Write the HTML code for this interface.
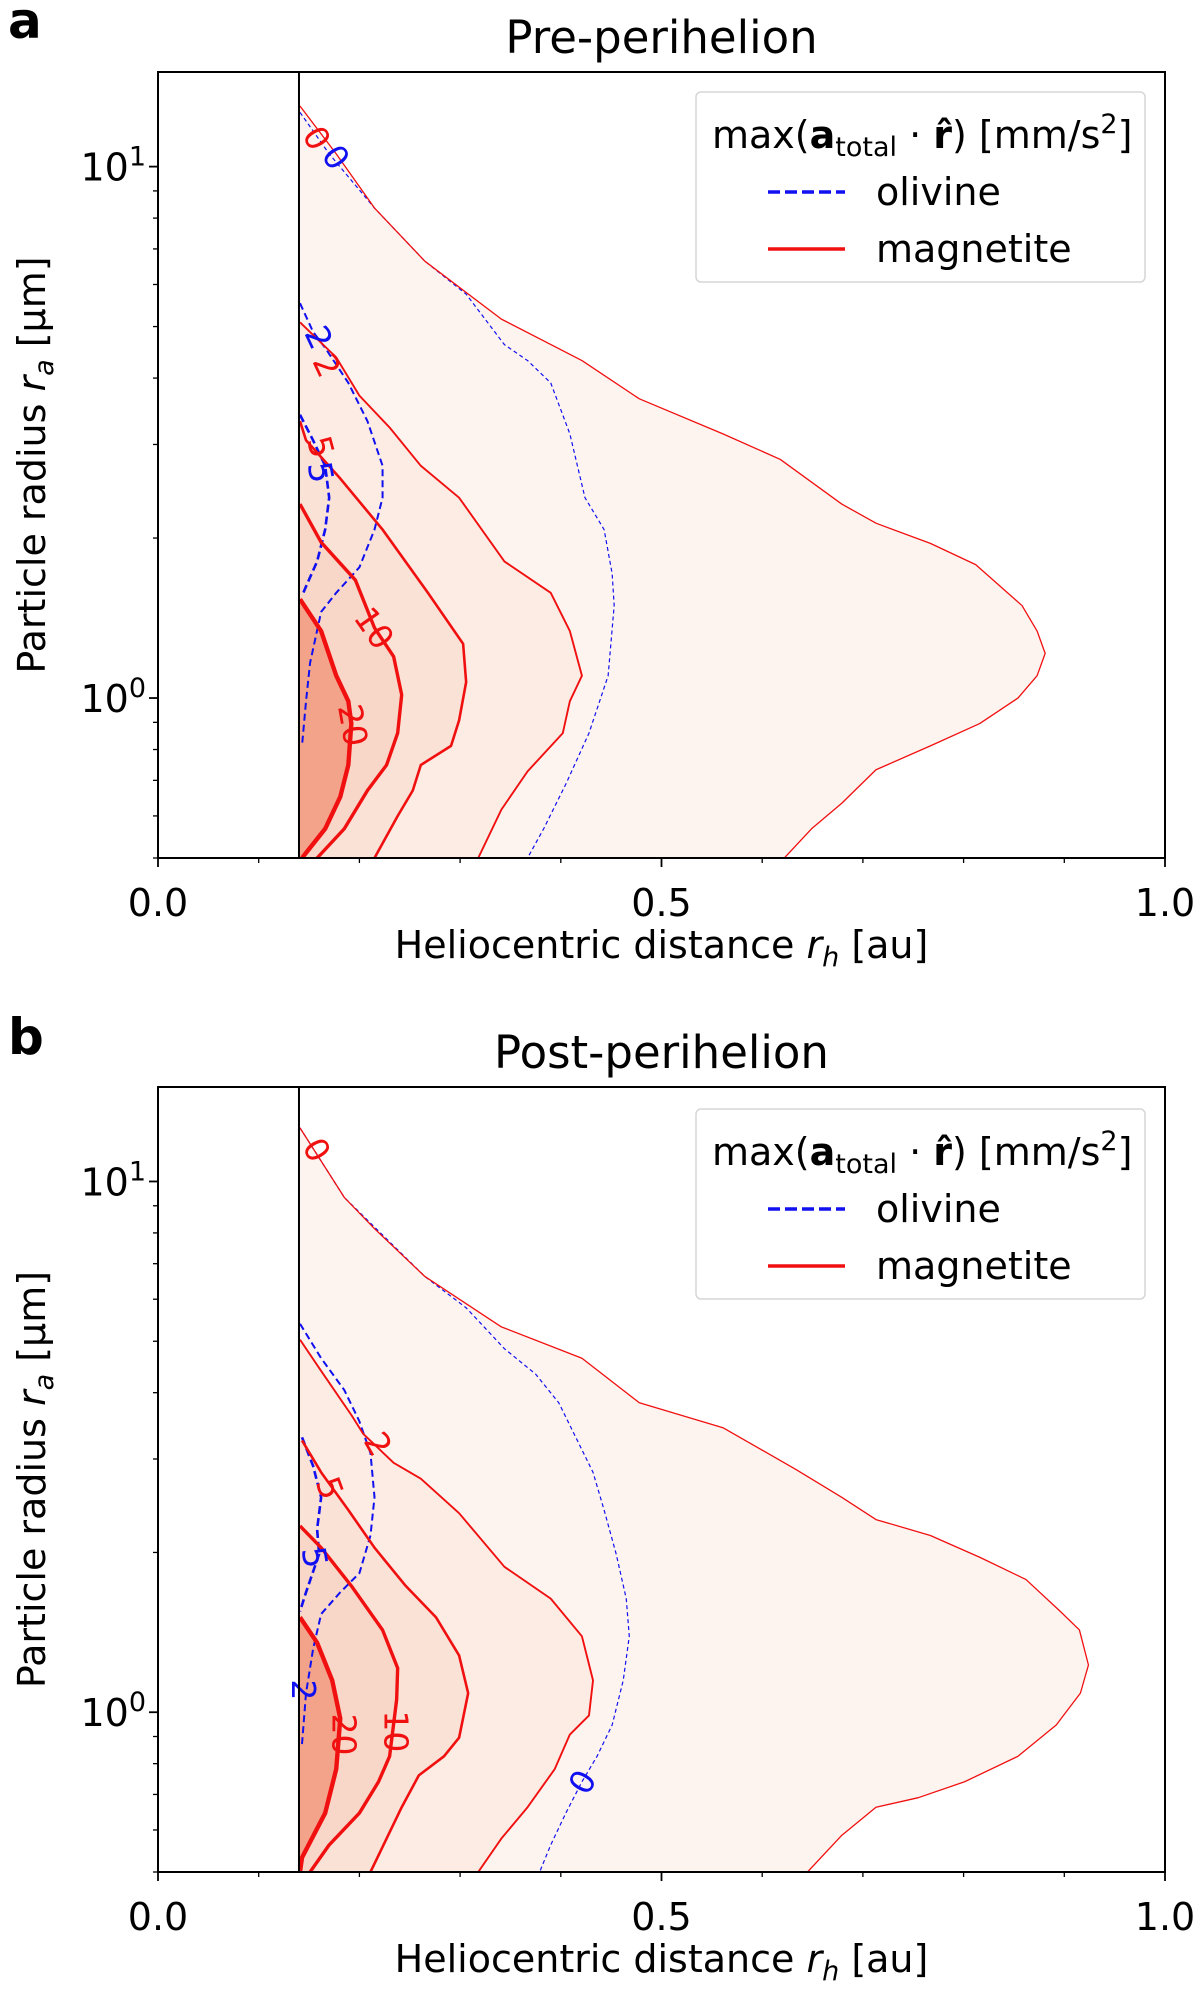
<!DOCTYPE html>
<html><head><meta charset="utf-8">
<style>
html,body{margin:0;padding:0;background:#fff;}
svg{display:block;font-family:"DejaVu Sans","Liberation Sans",sans-serif;}
</style></head>
<body>
<svg id="fig" width="1200" height="1992" viewBox="0 0 1200 1992" xmlns="http://www.w3.org/2000/svg"></svg>
<script>
// ---------- DATA (rh in au, values as log10 of particle radius in µm) ----------
const xTickValues = [0.0, 0.5, 1.0];
const xTickLabels = ["0.0", "0.5", "1.0"];
const yTickExps = [0, 1];
const levels = [0, 2, 5, 10, 20];
const perihelion = 0.14;

// Panel a (pre-perihelion) magnetite
const aMag0Rh = [0.141,0.177,0.215,0.265,0.341,0.421,0.478,0.561,0.618,0.679,0.713,0.767,0.812,0.858,0.873,0.881,0.873,0.854,0.816,0.767,0.713,0.679,0.649,0.622];
const aMag0Lg = [1.114,1.024,0.922,0.822,0.713,0.635,0.563,0.497,0.449,0.365,0.329,0.291,0.251,0.174,0.126,0.084,0.042,0,-0.048,-0.090,-0.135,-0.198,-0.246,-0.301];
const aMag2Rh = [0.141,0.177,0.200,0.230,0.261,0.299,0.344,0.390,0.409,0.421,0.409,0.402,0.367,0.341,0.318];
const aMag2Lg = [0.707,0.641,0.569,0.509,0.437,0.377,0.257,0.198,0.126,0.042,-0.006,-0.066,-0.138,-0.210,-0.301];
const aMag5Rh = [0.141,0.147,0.181,0.223,0.268,0.303,0.306,0.299,0.291,0.261,0.253,0.238,0.215];
const aMag5Lg = [0.521,0.485,0.413,0.317,0.198,0.102,0.030,-0.042,-0.090,-0.126,-0.174,-0.222,-0.301];
const aMag10Rh = [0.141,0.162,0.196,0.215,0.234,0.242,0.238,0.227,0.208,0.185,0.158];
const aMag10Lg = [0.365,0.293,0.222,0.132,0.078,0.006,-0.066,-0.126,-0.174,-0.246,-0.301];
const aMag20Rh = [0.141,0.162,0.177,0.189,0.192,0.189,0.181,0.166,0.143];
const aMag20Lg = [0.186,0.126,0.042,-0.006,-0.048,-0.126,-0.186,-0.246,-0.301];
// Panel a olivine
const aOli0Rh = [0.141,0.170,0.215,0.265,0.306,0.344,0.367,0.390,0.409,0.424,0.443,0.451,0.453,0.447,0.428,0.405,0.383,0.367];
const aOli0Lg = [1.102,1.024,0.922,0.822,0.760,0.665,0.635,0.593,0.497,0.377,0.317,0.234,0.174,0.042,-0.066,-0.162,-0.246,-0.301];
const aOli2Rh = [0.141,0.154,0.166,0.189,0.208,0.223,0.223,0.215,0.200,0.177,0.162,0.151,0.147,0.143];
const aOli2Lg = [0.743,0.689,0.659,0.593,0.521,0.437,0.377,0.317,0.246,0.198,0.162,0.066,-0.006,-0.090];
const aOli5Rh = [0.141,0.154,0.166,0.170,0.166,0.158,0.147,0.143];
const aOli5Lg = [0.533,0.485,0.437,0.377,0.317,0.257,0.210,0.192];

// Panel b (post-perihelion) magnetite
const bMag0Rh = [0.141,0.185,0.215,0.265,0.341,0.421,0.478,0.561,0.633,0.679,0.713,0.767,0.816,0.862,0.896,0.915,0.924,0.916,0.892,0.854,0.801,0.755,0.713,0.679,0.645];
const bMag0Lg = [1.101,0.970,0.911,0.821,0.726,0.667,0.583,0.536,0.458,0.405,0.363,0.333,0.292,0.250,0.190,0.155,0.089,0.036,-0.024,-0.083,-0.131,-0.161,-0.179,-0.232,-0.301];
const bMag2Rh = [0.141,0.162,0.192,0.204,0.234,0.261,0.299,0.344,0.390,0.421,0.432,0.428,0.409,0.394,0.367,0.341,0.318];
const bMag2Lg = [0.702,0.643,0.560,0.524,0.470,0.440,0.375,0.274,0.214,0.143,0.060,-0.006,-0.042,-0.107,-0.179,-0.238,-0.301];
const bMag5Rh = [0.143,0.162,0.189,0.215,0.246,0.276,0.299,0.308,0.299,0.284,0.259,0.242,0.227,0.211];
const bMag5Lg = [0.512,0.452,0.381,0.310,0.238,0.179,0.107,0.036,-0.048,-0.083,-0.119,-0.179,-0.238,-0.301];
const bMag10Rh = [0.141,0.162,0.192,0.223,0.238,0.237,0.230,0.219,0.200,0.170,0.151];
const bMag10Lg = [0.351,0.310,0.238,0.155,0.083,0.024,-0.083,-0.131,-0.190,-0.250,-0.301];
const bMag20Rh = [0.141,0.158,0.173,0.181,0.177,0.166,0.143,0.141];
const bMag20Lg = [0.179,0.131,0.060,-0.012,-0.107,-0.190,-0.274,-0.301];
// Panel b olivine
const bOli0Rh = [0.141,0.185,0.265,0.306,0.344,0.375,0.398,0.432,0.443,0.455,0.465,0.468,0.462,0.451,0.436,0.421,0.405,0.390,0.379];
const bOli0Lg = [1.101,0.970,0.821,0.762,0.685,0.637,0.583,0.452,0.381,0.298,0.214,0.143,0.060,-0.024,-0.083,-0.131,-0.190,-0.250,-0.301];
const bOli2Rh = [0.141,0.162,0.185,0.200,0.211,0.215,0.211,0.200,0.181,0.162,0.154,0.147,0.143];
const bOli2Lg = [0.732,0.667,0.607,0.548,0.488,0.405,0.333,0.262,0.226,0.185,0.119,0.036,-0.060];
const bOli5Rh = [0.143,0.154,0.162,0.158,0.160,0.147,0.141];
const bOli5Lg = [0.518,0.464,0.405,0.345,0.298,0.226,0.190];

// contour label texts, positions (rh, log10 ra) and materials
const aLabelText = ["0","0","2","2","5","5","10","20"];
const aLabelRh = [0.158,0.177,0.160,0.168,0.162,0.162,0.215,0.194];
const aLabelLg = [1.054,1.018,0.679,0.626,0.473,0.425,0.132,-0.051];
const aLabelMat = ["m","o","o","m","m","o","m","m"];
const bLabelText = ["0","2","5","5","2","20","10","0"];
const bLabelRh = [0.158,0.219,0.171,0.156,0.145,0.185,0.237,0.421];
const bLabelLg = [1.060,0.506,0.423,0.292,0.042,-0.042,-0.036,-0.131];
const bLabelMat = ["m","m","m","o","o","m","m","o"];

// ---------- DRAWING ----------
const NS = "http://www.w3.org/2000/svg";
const svg = document.getElementById("fig");
function el(tag, attrs, parent) {
  const e = document.createElementNS(NS, tag);
  for (const k in attrs) e.setAttribute(k, attrs[k]);
  (parent || svg).appendChild(e);
  return e;
}
const fillColors = ["#fef4ef","#fcece4","#fbe2d7","#f8d6c8","#f4a38b"];
const magWidths = [1.3, 1.9, 2.6, 3.4, 4.4];
const oliWidths = [1.2, 2.0, 2.6];
const oliDash = ["4,3","7,4","8,4"];
const LOGMIN = Math.log10(0.5), LOGMAX = 1.178;
const FS = 38, FSS = 27;

function panel(cfg) {
  const L = 158, R = 1165, T = cfg.T, B = cfg.B;
  const xs = v => L + (v - 0) / (1 - 0) * (R - L);
  const ys = lg => B - (lg - LOGMIN) / (LOGMAX - LOGMIN) * (B - T);
  const g = el("g", {});
  
  
  const clipId = "clip" + cfg.id;
  const cp = el("clipPath", {id: clipId}, g);
  el("rect", {x: xs(perihelion), y: T, width: R - xs(perihelion), height: B - T}, cp);
  const plot = el("g", {"clip-path": "url(#" + clipId + ")"}, g);

  cfg.mag.forEach((c, i) => {
    let d = "M" + xs(perihelion) + "," + ys(c[1][0]);
    for (let k = 0; k < c[0].length; k++) d += " L" + xs(c[0][k]) + "," + ys(c[1][k]);
    d += " L" + xs(c[0][c[0].length - 1]) + "," + (B + 5) + " L" + xs(perihelion) + "," + (B + 5) + "Z";
    const p = el("path", {d: d, fill: fillColors[i], stroke: "none"}, plot);
    
    
  });
  const pathOf = c => c[0].map((v, k) => (k ? "L" : "M") + xs(v) + "," + ys(c[1][k])).join(" ");
  cfg.oli.forEach((c, i) => {
    const p = el("path", {d: pathOf(c), fill: "none", stroke: "#1010f0", "stroke-width": oliWidths[i], "stroke-dasharray": oliDash[i]}, plot);
    
    
  });
  cfg.mag.forEach((c, i) => {
    const p = el("path", {d: pathOf(c), fill: "none", stroke: "#f01010", "stroke-width": magWidths[i], "stroke-linejoin": "round"}, plot);
    
    
  });
  cfg.lt.forEach((t, i) => {
    const x = xs(cfg.lr[i]), y = ys(cfg.ll[i]);
    const tx = el("text", {x: x, y: y + 12, "font-size": 33, "text-anchor": "middle",
      fill: cfg.lm[i] === "m" ? "#f01010" : "#1010f0",
      transform: "rotate(" + cfg.rot[i] + " " + x + " " + y + ")"}, g);
    tx.textContent = t;
    
    
  });
  const pl = el("line", {x1: xs(perihelion), x2: xs(perihelion), y1: T, y2: B, stroke: "#000", "stroke-width": 2}, g);
  
  
  const fr = el("rect", {x: L, y: T, width: R - L, height: B - T, fill: "none", stroke: "#000", "stroke-width": 2}, g);
  
  
  for (let m = 0; m <= 10; m++) {
    const v = m / 10, major = m % 5 === 0;
    el("line", {x1: xs(v), x2: xs(v), y1: B, y2: B + (major ? 9 : 5), stroke: "#000", "stroke-width": major ? 1.8 : 1.3}, g);
  }
  xTickValues.forEach((v, i) => {
    const t = el("text", {x: xs(v), y: B + 58, "font-size": FS, "text-anchor": "middle"}, g);
    t.textContent = xTickLabels[i];
    
    
  });
  for (let e = -1; e <= 1; e++) for (let k = 1; k <= 9; k++) {
    const lg = e + Math.log10(k);
    if (lg < LOGMIN - 1e-6 || lg > LOGMAX) continue;
    const major = k === 1;
    el("line", {x1: L, x2: L - (major ? 9 : 5), y1: ys(lg), y2: ys(lg), stroke: "#000", "stroke-width": major ? 1.8 : 1.3}, g);
  }
  yTickExps.forEach(e => {
    const t = el("text", {x: 146, y: ys(e) + 14, "font-size": FS, "text-anchor": "end"}, g);
    
    
    t.appendChild(document.createTextNode("10"));
    const s = el("tspan", {dy: -15, "font-size": FSS}, t);
    s.textContent = String(e);
  });
  const xl = el("text", {x: (L + R) / 2, y: B + 100, "font-size": FS, "text-anchor": "middle"}, g);
  
  
  xl.innerHTML = 'Heliocentric distance <tspan font-style="italic">r</tspan><tspan font-style="italic" font-size="27" dy="8">h</tspan><tspan dy="-8"> [au]</tspan>';
  const yc = (T + B) / 2;
  const yl = el("text", {x: 0, y: 0, "font-size": FS, "text-anchor": "middle", transform: "translate(45," + yc + ") rotate(-90)"}, g);
  
  
  yl.innerHTML = 'Particle radius <tspan font-style="italic">r</tspan><tspan font-style="italic" font-size="27" dy="8">a</tspan><tspan dy="-8"> [μm]</tspan>';
  const ti = el("text", {x: (L + R) / 2, y: T - 19, "font-size": 45, "text-anchor": "middle"}, g);
  ti.textContent = cfg.title;
  
  
  const le = el("text", {x: 8, y: cfg.letterY, "font-size": 50, "font-weight": "bold"}, g);
  le.textContent = cfg.letter;
  
  
  const LT = cfg.legT;
  const lg = el("g", {}, g);
  
  
  el("rect", {x: 696, y: LT, width: 449, height: 190, rx: 5, fill: "#fff", "fill-opacity": 0.85, stroke: "#d6d6d6", "stroke-width": 1.5}, lg);
  const lt = el("text", {x: 712, y: LT + 56, "font-size": FS}, lg);
  lt.innerHTML = 'max(<tspan font-weight="bold">a</tspan><tspan font-size="27" dy="8">total</tspan><tspan dy="-8"> · </tspan><tspan font-weight="bold">r̂</tspan>) [mm/s<tspan font-size="27" dy="-15">2</tspan><tspan dy="15">]</tspan>';
  
  
  el("line", {x1: 768, x2: 845, y1: LT + 100, y2: LT + 100, stroke: "#1010f0", "stroke-width": 3.5, "stroke-dasharray": "12,5"}, lg);
  const o = el("text", {x: 876, y: LT + 113, "font-size": FS}, lg);
  o.textContent = "olivine";
  
  
  el("line", {x1: 768, x2: 845, y1: LT + 157, y2: LT + 157, stroke: "#f01010", "stroke-width": 3.5}, lg);
  const mg = el("text", {x: 876, y: LT + 170, "font-size": FS}, lg);
  mg.textContent = "magnetite";
  
  
}

panel({id: "a", name: "panel-a-pre-perihelion", title: "Pre-perihelion", letter: "a", letterY: 38, T: 72, B: 858, legT: 92,
  mag: [[aMag0Rh,aMag0Lg],[aMag2Rh,aMag2Lg],[aMag5Rh,aMag5Lg],[aMag10Rh,aMag10Lg],[aMag20Rh,aMag20Lg]],
  oli: [[aOli0Rh,aOli0Lg],[aOli2Rh,aOli2Lg],[aOli5Rh,aOli5Lg]],
  lt: aLabelText, lr: aLabelRh, ll: aLabelLg, lm: aLabelMat, rot: [60,55,65,65,75,80,55,80]});
panel({id: "b", name: "panel-b-post-perihelion", title: "Post-perihelion", letter: "b", letterY: 1054, T: 1087, B: 1872, legT: 1109,
  mag: [[bMag0Rh,bMag0Lg],[bMag2Rh,bMag2Lg],[bMag5Rh,bMag5Lg],[bMag10Rh,bMag10Lg],[bMag20Rh,bMag20Lg]],
  oli: [[bOli0Rh,bOli0Lg],[bOli2Rh,bOli2Lg],[bOli5Rh,bOli5Lg]],
  lt: bLabelText, lr: bLabelRh, ll: bLabelLg, lm: bLabelMat, rot: [60,60,70,80,90,90,90,-60]});
</script>
</body></html>
